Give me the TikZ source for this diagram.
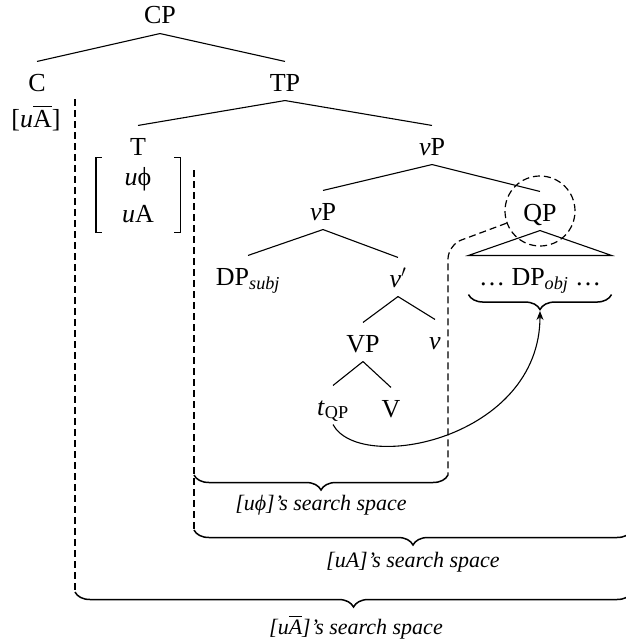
\documentclass[tikz,border=0pt]{standalone}
\usepackage{amsmath, amssymb}
\usepackage{fontspec}
\setmainfont{Liberation Serif}
\usepackage{tikz}
\usetikzlibrary{decorations.pathreplacing, arrows.meta}

\begin{document}
\begin{tikzpicture}[x=1pt, y=-1pt, line width=1.1pt,
  ft/.style={inner sep=0pt, font=\fontsize{26}{31}\selectfont},
  nd/.style={ft, anchor=base, text height=29pt, text depth=9pt},
  lab/.style={inner sep=0pt, font=\fontsize{22}{26}\selectfont\itshape},
  brc/.style={decorate, decoration={brace, mirror, amplitude=15pt}, line width=1.5pt},
  dsh/.style={dash pattern=on 7pt off 4pt, line width=1.2pt}]
\useasboundingbox (0,0) rectangle (625,642);

% the tree
\node[nd] (cp) at (160,24) {CP};
\node[nd] (c) at (37,91) {C};
\node[ft] (cfeat) at (36,118) {[\textit{u}$\overline{\hbox{A}}$]};
\node[nd] (tp) at (285,91) {TP};
\node[nd] (t) at (138,155) {T};
\node[ft, align=center, font=\fontsize{26}{37}\selectfont, minimum width=83pt, minimum height=74pt] (tfeat) at (138,195) {\textit{u}ϕ\\\textit{u}A};
\node[nd] (vp1) at (432,155) {\textit{ν}P};
\node[nd] (vp2) at (323,220) {\textit{ν}P};
\node[nd] (qp) at (540,221) {QP};
\node[nd] (dps) at (248,285) {DP$_{\textit{subj}}$};
\node[nd] (vbar) at (398,287) {\textit{ν}$'$};
\node[nd] (vpp) at (363,352) {VP};
\node[nd] (nu) at (435,349) {\textit{ν}};
\node[nd] (tqp) at (333,415) {\textit{t}$_{\text{QP}}$};
\node[nd] (verb) at (391,417) {V};
\node[nd, inner xsep=10pt] (dpo) at (540,285) {\dots\ DP$_{\textit{obj}}$ \dots};

\foreach \a/\b in {cp/c, cp/tp, tp/t, tp/vp1, vp1/vp2, vp1/qp, vp2/dps, vp2/vbar,
                   vbar/vpp, vbar/nu, vpp/tqp, vpp/verb}
  \draw (\a.south) -- (\b.north);
\draw (qp.south) -- (dpo.north west) -- (dpo.north east) -- cycle;

% feature brackets on T
\draw ([xshift=6pt]tfeat.north west) -- (tfeat.north west) -- (tfeat.south west) -- ([xshift=6pt]tfeat.south west);
\draw ([xshift=-6pt]tfeat.north east) -- (tfeat.north east) -- (tfeat.south east) -- ([xshift=-6pt]tfeat.south east);

% search spaces
\node[draw, dsh, circle, minimum size=70pt, inner sep=0pt] (ring) at (qp.center) {};
\coordinate (a1) at (75,99);
\coordinate (a2) at (75,592);
\coordinate (a3) at (632,592);
\coordinate (b1) at (194,170);
\coordinate (b2) at (194,475);
\coordinate (b3) at (448,475);
\coordinate (b4) at (194,530);
\coordinate (b5) at (632,530);
\coordinate (k1) at (448,245);
\coordinate (dpotip) at (540,311);

\draw[dsh] (a1) -- (a2);
\draw[dsh] (b1) -- (b4);
\draw[dsh, rounded corners=14pt] (ring.200) -- (k1) -- (b3);
\draw[brc] (b2) -- (b3);
\draw[brc] (b4) -- (b5);
\draw[brc] (a2) -- (a3);
\draw (dpo.south west) -- (dpo.south east) [brc];

\node[lab] (s1) at (321,505) {[uϕ]’s search space};
\node[lab] (s2) at (413,562) {[uA]’s search space};
\node[lab] (s3) at (356,627) {[u$\overline{\hbox{A}}$]’s search space};

% movement of QP
\draw[-{Stealth[length=9pt, width=7pt]}] (tqp.south) .. controls +(27,50) and +(0,128) .. (dpotip);
\end{tikzpicture}
\end{document}
